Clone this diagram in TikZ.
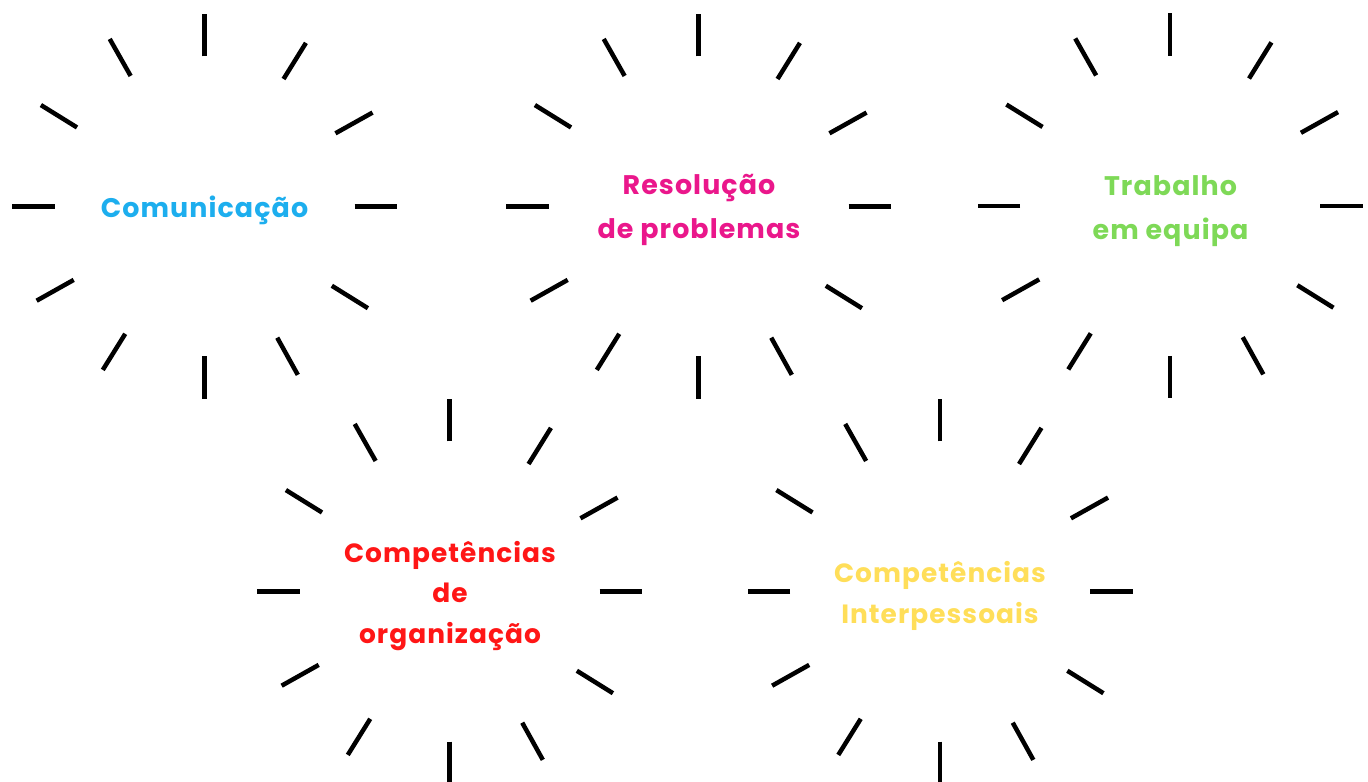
\documentclass[tikz,border=0pt]{standalone}
\usepackage{fontspec}
\setmainfont{Poppins}[LetterSpace=4]
\usetikzlibrary{calc}
\definecolor{cblue}{HTML}{1DAEEE}
\definecolor{cpink}{HTML}{EA178B}
\definecolor{cgreen}{HTML}{7ED957}
\definecolor{cred}{HTML}{FF1616}
\definecolor{cyellow}{HTML}{FFDE59}
\tikzset{
  ray/.style={line width=4.5bp, black},
  lbl/.style={font=\bfseries\fontsize{27}{44}\selectfont, align=center, inner sep=0pt},
  lbltight/.style={lbl, font=\bfseries\fontsize{26.5}{41}\selectfont},
}
\newcommand\sunburst[1]{%
  \begin{scope}[shift={(#1)}]
    \foreach \a in {90,58.2,29.2,0,-31.9,-61,-90,-121.9,-150.7,180,148.2,119.5}
      \draw[ray] (\a:150) -- (\a:192.5);
  \end{scope}}
\begin{document}
\begin{tikzpicture}[x=1bp,y=1bp]
  \useasboundingbox (0,0) rectangle (1368,781);
  \clip (0,0) rectangle (1368,781);
  \sunburst{204.5,574.5}
  \sunburst{698.5,574.5}
  \sunburst{1170,575}
  \sunburst{449.5,189.5}
  \sunburst{940,189.5}
  \node[lbl, text=cblue] (com) at (204.5,571) {Comunicação};
  \node[lbl, text=cpink] (res) at (699,571) {Resolução\\de problemas};
  \node[lbl, text=cgreen] (tra) at (1170.5,570) {Trabalho\\em equipa};
  \node[lbltight, text=cred] (org) at (450,185) {Competências\\de\\organização};
  \node[lbltight, text=cyellow] (int) at (940,185) {Competências\\Interpessoais};
\end{tikzpicture}
\end{document}
